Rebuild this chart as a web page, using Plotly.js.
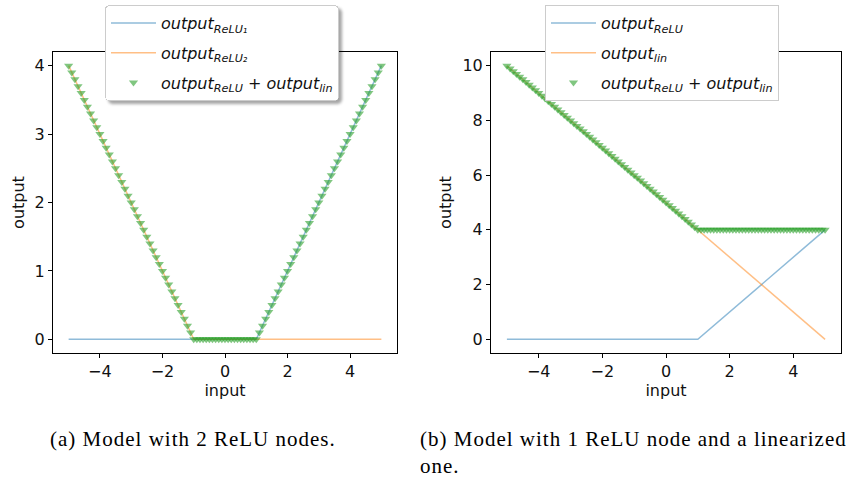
<!DOCTYPE html>
<html><head><meta charset="utf-8">
<script src="https://cdn.plot.ly/plotly-3.0.1.min.js"></script>
<style>
html,body{margin:0;padding:0;background:#fff}
.legend rect.bg{filter: drop-shadow(3px 3px 1.5px rgba(0,0,0,0.35)); rx:4px; ry:4px;}
.annotation-text{letter-spacing:1px;}
</style>
</head><body>
<div id="chart" style="width:861px;height:482px"></div>
<script>
// Shared input samples for the green marker series
var inputX = [-5.0,-4.9,-4.8,-4.7,-4.6,-4.5,-4.4,-4.3,-4.2,-4.1,-4.0,-3.9,-3.8,-3.7,-3.6,-3.5,-3.4,-3.3,-3.2,-3.1,
  -3.0,-2.9,-2.8,-2.7,-2.6,-2.5,-2.4,-2.3,-2.2,-2.1,-2.0,-1.9,-1.8,-1.7,-1.6,-1.5,-1.4,-1.3,-1.2,-1.1,
  -1.0,-0.9,-0.8,-0.7,-0.6,-0.5,-0.4,-0.3,-0.2,-0.1,0.0,0.1,0.2,0.3,0.4,0.5,0.6,0.7,0.8,0.9,
  1.0,1.1,1.2,1.3,1.4,1.5,1.6,1.7,1.8,1.9,2.0,2.1,2.2,2.3,2.4,2.5,2.6,2.7,2.8,2.9,
  3.0,3.1,3.2,3.3,3.4,3.5,3.6,3.7,3.8,3.9,4.0,4.1,4.2,4.3,4.4,4.5,4.6,4.7,4.8,4.9,5.0];

// (a) Model with 2 ReLU nodes
var aRelu1X = [-5, 1, 5];
var aRelu1Y = [0, 0, 4];
var aRelu2X = [-5, -1, 5];
var aRelu2Y = [4, 0, 0];
var aSumY = [4.0,3.9,3.8,3.7,3.6,3.5,3.4,3.3,3.2,3.1,3.0,2.9,2.8,2.7,2.6,2.5,2.4,2.3,2.2,2.1,
  2.0,1.9,1.8,1.7,1.6,1.5,1.4,1.3,1.2,1.1,1.0,0.9,0.8,0.7,0.6,0.5,0.4,0.3,0.2,0.1,
  0.0,0,0,0,0,0,0,0,0,0,0,0,0,0,0,0,0,0,0,0,
  0.0,0.1,0.2,0.3,0.4,0.5,0.6,0.7,0.8,0.9,1.0,1.1,1.2,1.3,1.4,1.5,1.6,1.7,1.8,1.9,
  2.0,2.1,2.2,2.3,2.4,2.5,2.6,2.7,2.8,2.9,3.0,3.1,3.2,3.3,3.4,3.5,3.6,3.7,3.8,3.9,4.0];

// (b) Model with 1 ReLU node and a linearized one
var bReluX = [-5, 1, 5];
var bReluY = [0, 0, 4];
var bLinX = [-5, 5];
var bLinY = [10, 0];
var bSumY = [10.0,9.9,9.8,9.7,9.6,9.5,9.4,9.3,9.2,9.1,9.0,8.9,8.8,8.7,8.6,8.5,8.4,8.3,8.2,8.1,
  8.0,7.9,7.8,7.7,7.6,7.5,7.4,7.3,7.2,7.1,7.0,6.9,6.8,6.7,6.6,6.5,6.4,6.3,6.2,6.1,
  6.0,5.9,5.8,5.7,5.6,5.5,5.4,5.3,5.2,5.1,5.0,4.9,4.8,4.7,4.6,4.5,4.4,4.3,4.2,4.1,
  4.0,4,4,4,4,4,4,4,4,4,4,4,4,4,4,4,4,4,4,4,
  4,4,4,4,4,4,4,4,4,4,4,4,4,4,4,4,4,4,4,4,4];

var xTicks = [-4, -2, 0, 2, 4];
var aYTicks = [0, 1, 2, 3, 4];
var bYTicks = [0, 2, 4, 6, 8, 10];

var captionA = "(a) Model with 2 ReLU nodes.";
var captionB = "(b) Model with 1 ReLU node and a linearized<br>one.";

var blue = "rgba(31,119,180,0.5)", orange = "rgba(255,127,14,0.5)", green = "rgba(44,160,44,0.6)";
var W = 861, H = 482;
function px(x){return x/W;} function py(y){return 1 - y/H;}

var traces = [
  {x: aRelu1X, y: aRelu1Y, mode: "lines", line: {color: blue, width: 1.5}, name: "<i>output<sub>ReLU₁</sub></i>", xaxis: "x", yaxis: "y", legend: "legend", legendgroup: "a1"},
  {x: aRelu2X, y: aRelu2Y, mode: "lines", line: {color: orange, width: 1.5}, name: "<i>output<sub>ReLU₂</sub></i>", xaxis: "x", yaxis: "y", legend: "legend", legendgroup: "a2"},
  {x: inputX, y: aSumY, mode: "markers", marker: {symbol: "triangle-down", color: green, size: 8}, name: "<i>output<sub>ReLU</sub> + output<sub>lin</sub></i>", xaxis: "x", yaxis: "y", legend: "legend", legendgroup: "a3"},
  {x: bReluX, y: bReluY, mode: "lines", line: {color: blue, width: 1.5}, name: "<i>output<sub>ReLU</sub></i>", xaxis: "x2", yaxis: "y2", legend: "legend2", legendgroup: "b1"},
  {x: bLinX, y: bLinY, mode: "lines", line: {color: orange, width: 1.5}, name: "<i>output<sub>lin</sub></i>", xaxis: "x2", yaxis: "y2", legend: "legend2", legendgroup: "b2"},
  {x: inputX, y: bSumY, mode: "markers", marker: {symbol: "triangle-down", color: green, size: 8}, name: "<i>output<sub>ReLU</sub> + output<sub>lin</sub></i>", xaxis: "x2", yaxis: "y2", legend: "legend2", legendgroup: "b3"}
];

var axFont = {family: "DejaVu Sans", size: 16, color: "#111"};
function xa(domain){
  return {domain: domain, range: [-5.5, 5.5], tickvals: xTicks, ticks: "outside", ticklen: 4, tickcolor: "#000",
    showgrid: false, zeroline: false, showline: true, mirror: true, linecolor: "#000", linewidth: 1,
    tickfont: axFont, title: {text: "input", font: axFont, standoff: 2}, automargin: false};
}
function ya(domain, range, ticks, anchor){
  return {domain: domain, range: range, tickvals: ticks, ticks: "outside", ticklen: 4, tickcolor: "#000",
    showgrid: false, zeroline: false, showline: true, mirror: true, linecolor: "#000", linewidth: 1,
    tickfont: axFont, title: {text: "output", font: axFont, standoff: 6}, automargin: false, anchor: anchor};
}
var yDom = [py(353), py(52)];
var legFont = {family: "DejaVu Sans", size: 16, color: "#111"};
var legCommon = {xanchor: "left", yanchor: "top", bgcolor: "#fff", bordercolor: "#ccc", borderwidth: 1, font: legFont, tracegroupgap: 6, itemwidth: 45};
var layout = {
  width: W, height: H, margin: {l: 0, r: 0, t: 0, b: 0},
  paper_bgcolor: "#fff", plot_bgcolor: "#fff", showlegend: true,
  xaxis: Object.assign(xa([px(53), px(397)]), {anchor: "y"}),
  yaxis: ya(yDom, [-0.2, 4.2], aYTicks, "x"),
  xaxis2: Object.assign(xa([px(491), px(841)]), {anchor: "y2"}),
  yaxis2: ya(yDom, [-0.5, 10.5], bYTicks, "x2"),
  legend: Object.assign({x: px(105), y: py(5)}, legCommon),
  legend2: Object.assign({x: px(545), y: py(5)}, legCommon),
  annotations: [
    {text: captionA, xref: "paper", yref: "paper", x: px(48), y: py(425), xanchor: "left", yanchor: "top", showarrow: false, align: "left", font: {family: "Liberation Serif", size: 21, color: "#000"}},
    {text: captionB, xref: "paper", yref: "paper", x: px(418), y: py(425), xanchor: "left", yanchor: "top", showarrow: false, align: "left", font: {family: "Liberation Serif", size: 21, color: "#000"}}
  ]
};
Plotly.newPlot("chart", traces, layout, {displayModeBar: false, staticPlot: true});
</script>
</body></html>
